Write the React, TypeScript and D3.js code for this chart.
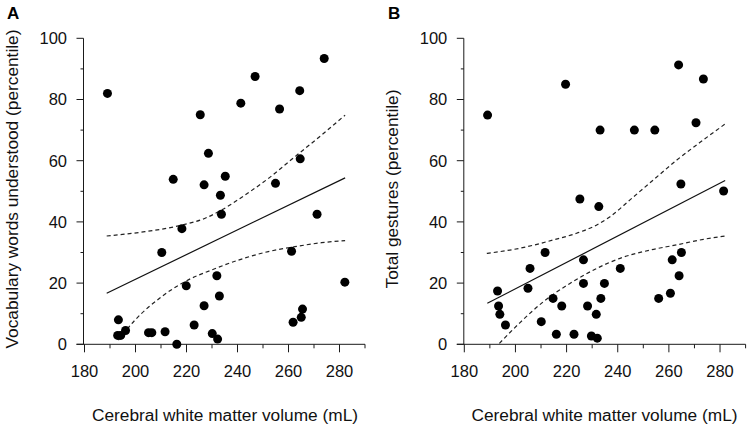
import React from "react";
import * as d3 from "d3";

// Panel A data
const volA = [189.0, 193.3, 193.0, 194.2, 196.1, 205.1, 206.4, 211.6, 210.3, 214.8, 216.2, 218.2, 219.9, 223.0, 225.4, 226.9, 226.9, 228.6, 230.1, 232.2, 231.9, 233.3, 233.7, 232.9, 235.2, 241.3, 246.9, 254.9, 256.5, 261.2, 261.8, 264.4, 264.6, 265.0, 265.5, 271.2, 274.0, 282.1];
const vocab = [82.0, 8.0, 2.9, 2.9, 4.5, 3.8, 3.8, 4.1, 30.0, 53.9, 0.0, 37.8, 19.1, 6.3, 75.0, 52.1, 12.6, 62.4, 3.5, 1.7, 22.4, 48.7, 42.5, 15.8, 54.9, 78.8, 87.5, 52.6, 76.9, 30.4, 7.2, 82.9, 60.6, 8.8, 11.5, 42.5, 93.4, 20.3];
const fitA = [[188.7, 16.7], [282.2, 54.4]];
const upperA = [[188.7, 35.4], [203.7, 36.8], [216.8, 38.7], [227.3, 41.2], [233.8, 43.9], [243.0, 48.8], [252.1, 54.2], [262.5, 61.3], [273.0, 68.4], [282.2, 74.9]];
const lowerA = [[193.3, 1.4], [199.8, 7.9], [210.3, 15.6], [219.4, 20.5], [229.9, 24.3], [240.3, 27.5], [252.1, 30.3], [262.5, 31.9], [273.0, 33.2], [282.2, 33.9]];

// Panel B data
const volB = [189.1, 193.0, 193.4, 193.9, 196.1, 204.9, 205.7, 210.1, 211.6, 214.7, 216.0, 218.1, 219.6, 222.9, 225.2, 226.6, 226.6, 228.2, 229.7, 232.0, 231.6, 232.6, 233.4, 233.1, 234.8, 241.0, 246.5, 254.5, 256.0, 260.6, 261.3, 263.8, 264.0, 264.7, 264.9, 270.6, 273.5, 281.4];
const gestures = [74.9, 17.4, 12.5, 9.8, 6.3, 18.3, 24.8, 7.4, 30.0, 15.0, 3.3, 12.5, 85.0, 3.3, 47.5, 27.6, 19.9, 12.5, 2.7, 2.0, 9.8, 45.0, 15.0, 70.0, 19.9, 24.8, 70.0, 70.0, 15.0, 16.7, 27.6, 91.3, 22.4, 52.4, 30.0, 72.4, 86.7, 50.1];
const fitB = [[189.0, 13.4], [282.0, 53.5]];
const upperB = [[188.8, 29.7], [201.8, 31.4], [214.8, 34.1], [223.9, 36.3], [231.8, 39.0], [237.0, 41.7], [244.8, 47.2], [253.9, 53.7], [263.1, 60.2], [273.5, 66.8], [282.0, 72.0]];
const lowerB = [[193.7, 0.3], [201.8, 7.1], [210.9, 13.9], [221.3, 19.9], [231.8, 24.8], [240.9, 28.1], [252.6, 30.8], [263.1, 32.5], [273.5, 34.3], [282.0, 35.4]];

const xMajor = [180, 200, 220, 240, 260, 280];
const xMinor = [190, 210, 230, 250, 270, 290];
const yMajor = [0, 20, 40, 60, 80, 100];
const yMinor = [10, 30, 50, 70, 90];

const xTitle = "Cerebral white matter volume (mL)";
const FONT = "Arial, 'Liberation Sans', Helvetica, sans-serif";

type Pt = number[];

function Panel(props: {
  x0: number; x1: number; axisX: number; xs: number[]; ys: number[];
  fit: Pt[]; upper: Pt[]; lower: Pt[]; label: string; labelX: number;
  yTitle: string; yTitleX: number; xTitleX: number;
}) {
  const { x0, x1, axisX, xs, ys, fit, upper, lower, label, labelX, yTitle, yTitleX, xTitleX } = props;
  const x = d3.scaleLinear().domain([180, 290]).range([x0, x1]);
  const y = d3.scaleLinear().domain([0, 100]).range([344.3, 38.3]);
  const straight = d3.line<Pt>().x((d) => x(d[0])).y((d) => y(d[1]));
  const curved = d3.line<Pt>().x((d) => x(d[0])).y((d) => y(d[1])).curve(d3.curveMonotoneX);
  const stroke = "#1a1a1a";
  return (
    <g fontFamily={FONT}>
      <text x={labelX} y={19} fontSize={17} fontWeight="bold" fill="#000">{label}</text>
      {/* y axis */}
      <line x1={axisX} x2={axisX} y1={y(0)} y2={y(100)} stroke={stroke} strokeWidth={1} />
      {yMajor.map((v) => (
        <g key={"ym" + v}>
          <line x1={axisX - 7} x2={axisX} y1={y(v)} y2={y(v)} stroke={stroke} />
          <text x={axisX - 16.5} y={y(v)} dy="0.36em" textAnchor="end" fontSize={16.5} fill="#111">{v}</text>
        </g>
      ))}
      {yMinor.map((v) => (
        <line key={"yn" + v} x1={axisX - 3} x2={axisX} y1={y(v)} y2={y(v)} stroke={stroke} />
      ))}
      {/* x axis */}
      <line x1={axisX - 7} x2={x(290)} y1={y(0)} y2={y(0)} stroke={stroke} />
      {xMajor.map((v) => (
        <g key={"xm" + v}>
          <line x1={x(v)} x2={x(v)} y1={y(0)} y2={y(0) + 8} stroke={stroke} />
          <text x={x(v)} y={376.5} textAnchor="middle" fontSize={16.5} fill="#111">{v}</text>
        </g>
      ))}
      {xMinor.map((v) => (
        <line key={"xn" + v} x1={x(v)} x2={x(v)} y1={y(0)} y2={y(0) + 4} stroke={stroke} />
      ))}
      <text x={xTitleX} y={420.5} textAnchor="middle" fontSize={17.3} fill="#111">{xTitle}</text>
      <text transform={`translate(${yTitleX},189) rotate(-90)`} textAnchor="middle" fontSize={17.3} fill="#111">{yTitle}</text>
      {/* fit and CI */}
      <path d={straight(fit) || ""} fill="none" stroke="#111" strokeWidth={1.2} />
      <path d={curved(upper) || ""} fill="none" stroke="#222" strokeWidth={1.2} strokeDasharray="4,3" />
      <path d={curved(lower) || ""} fill="none" stroke="#222" strokeWidth={1.2} strokeDasharray="4,3" />
      {xs.map((v, i) => (
        <circle key={i} cx={x(v)} cy={y(ys[i])} r={4.5} fill="#000" />
      ))}
    </g>
  );
}

export default function App() {
  return (
    <svg width={750} height={432} style={{ position: "absolute", left: 0, top: 0, background: "#fff" }}>
      <rect width={750} height={432} fill="#fff" />
      <Panel x0={84.5} x1={365} axisX={83.5} xs={volA} ys={vocab} fit={fitA} upper={upperA} lower={lowerA}
        label="A" labelX={7} yTitle="Vocabulary words understood (percentile)" yTitleX={17.5} xTitleX={225} />
      <Panel x0={464.3} x1={745.6} axisX={463.8} xs={volB} ys={gestures} fit={fitB} upper={upperB} lower={lowerB}
        label="B" labelX={388} yTitle="Total gestures (percentile)" yTitleX={397.5} xTitleX={604.5} />
    </svg>
  );
}
